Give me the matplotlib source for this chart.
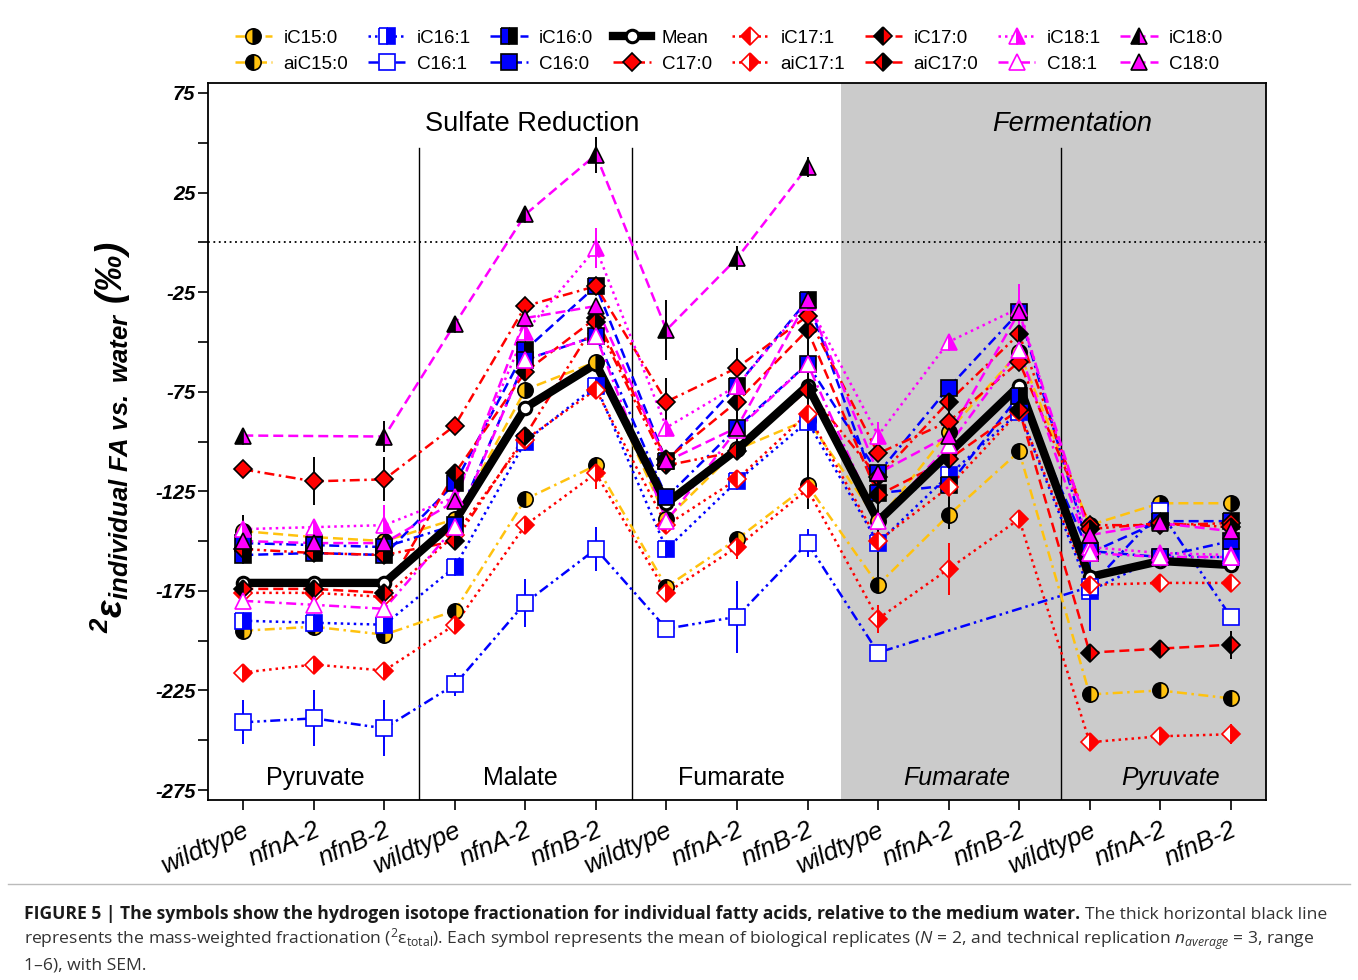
import numpy as np
import matplotlib
matplotlib.use("Agg")
import matplotlib.pyplot as plt
from matplotlib.lines import Line2D

plt.rcParams['font.family'] = ['Liberation Sans', 'DejaVu Sans']
plt.rcParams['axes.unicode_minus'] = False
plt.rcParams['mathtext.fontset'] = 'custom'
plt.rcParams['mathtext.rm'] = 'Open Sans'
plt.rcParams['mathtext.it'] = 'Open Sans:italic'
plt.rcParams['mathtext.bf'] = 'Liberation Sans:bold'
plt.rcParams['mathtext.bfit'] = 'Liberation Sans:italic:bold'

nan = np.nan

# ---------------- data ----------------
tick_labels = ["wildtype", "nfnA-2", "nfnB-2"] * 5
section_labels = ["Sulfate Reduction", "Fermentation"]
substrate_labels = ["Pyruvate", "Malate", "Fumarate", "Fumarate", "Pyruvate"]

iC15_0 = [-145, -148, -150, -139, -74, -60, -139, -104, -89, -140, -95, -55, -142, -131, -131]
aiC15_0 = [-195, -193, -197, -185, -129, -112, -173, -149, -122, -172, -137, -105, -227, -225, -229]
iC16_1 = [-190, -191, -192, -163, -100, -72, -154, -120, -90, -151, -117, -85, -175, -158, -158]
C16_1 = [-241, -239, -244, -222, -181, -154, -194, -188, -151, -206, nan, nan, -173, -135, -188]
iC16_0 = [-157, -156, -157, -121, -54, -22, -110, -72, -29, -126, -122, -77, -156, -140, -140]
C16_0 = [-151, -152, -153, -142, -59, -47, -128, -93, -61, -116, -73, -35, -155, -158, -150]
Mean = [-171, -171, -171, -140, -83, -61, -131, -104, -72, -140, -106, -72, -168, -160, -162]
iC17_1 = [-176, -176, -178, -147, -99, -74, -142, -119, -86, -150, -123, -85, -172, -171, -171]
aiC17_1 = [-216, -212, -215, -192, -142, -116, -176, -153, -124, -189, -164, -139, -251, -248, -247]
iC17_0 = [-174, -174, -176, -116, -65, -38, -109, -80, -44, -127, -109, -84, -206, -204, -202]
C17_0 = [-114, -120, -119, -92, -32, -22, -80, -63, -37, -106, -90, -60, -142, -142, -141]
aiC17_0 = [-154, -156, -157, -150, -97, -40, -112, -105, -74, -118, -80, -46, -144, -141, -143]
iC18_1 = [-144, -143, -142, -128, -45, -3, -93, -72, -30, -97, -50, -33, -153, -156, -157]
iC18_0 = [-97, nan, -97.5, -41, 14, 44, -44, -8, 38, nan, nan, nan, nan, nan, nan]
C18_1 = [-180, -182, -184, -143, -59, -47, -140, -94, -61, -140, -102, -54, -156, -158, -158]
C18_0 = [-150, -151, -151, -130, -38, -32, -110, -93, -29, -116, -97, -35, -147, -141, -145]

# standard errors (0 = not shown)
iC15_0_err = [8, 0, 0, 0, 0, 0, 0, 0, 45, 28, 0, 0, 0, 0, 0]
iC16_1_err = [0, 0, 0, 0, 0, 0, 0, 0, 0, 0, 0, 0, 20, 0, 0]
C16_1_err = [11, 14, 14, 6, 12, 11, 4, 18, 7, 0, 0, 0, 0, 0, 0]
aiC17_1_err = [4, 0, 0, 0, 3, 8, 3, 6, 0, 7, 13, 0, 0, 0, 5]
iC17_0_err = [0, 0, 0, 0, 0, 0, 0, 27, 0, 0, 35, 0, 0, 0, 7]
C17_0_err = [2, 12, 11, 4, 0, 0, 12, 0, 0, 0, 0, 0, 0, 0, 0]
iC18_1_err = [0, 0, 10, 0, 0, 10, 0, 0, 0, 7, 0, 12, 0, 0, 0]
iC18_0_err = [0, 0, 8, 4, 4, 9, 15, 6, 5, 0, 0, 0, 0, 0, 0]
zero_err = [0] * 15

# ---------------- styles ----------------
GOLD, BLUE, RED, MAG = '#FFC20E', '#0000FF', '#FF0000', '#FF00FF'
DASH = (0, (4, 2))
DOT = (0, (1, 1.6))
DASHDOT = (0, (4, 1.8, 1, 1.8))
DASHDOTDOT = (0, (4, 1.6, 1, 1.6, 1, 1.6))

# name, values, err, line color, ls, marker, fillstyle, face, alt, edge
series = [
    ("iC15:0", iC15_0, iC15_0_err, GOLD, DASH, 'o', 'left', GOLD, 'black', 'black'),
    ("aiC15:0", aiC15_0, zero_err, GOLD, DASHDOT, 'o', 'left', 'black', GOLD, 'black'),
    ("iC16:1", iC16_1, iC16_1_err, BLUE, DOT, 's', 'left', 'white', BLUE, BLUE),
    ("C16:1", C16_1, C16_1_err, BLUE, DASHDOTDOT, 's', 'full', 'white', 'white', BLUE),
    ("iC16:0", iC16_0, zero_err, BLUE, DASH, 's', 'left', BLUE, 'black', 'black'),
    ("C16:0", C16_0, zero_err, BLUE, DASHDOT, 's', 'full', BLUE, BLUE, 'black'),
    ("iC17:1", iC17_1, zero_err, RED, DOT, 'D', 'left', RED, 'white', RED),
    ("aiC17:1", aiC17_1, aiC17_1_err, RED, DOT, 'D', 'left', 'white', RED, RED),
    ("iC17:0", iC17_0, iC17_0_err, RED, DASH, 'D', 'left', 'black', RED, 'black'),
    ("C17:0", C17_0, C17_0_err, RED, DASHDOT, 'D', 'full', RED, RED, 'black'),
    ("aiC17:0", aiC17_0, zero_err, RED, DASHDOTDOT, 'D', 'left', RED, 'black', 'black'),
    ("iC18:1", iC18_1, iC18_1_err, MAG, DOT, '^', 'left', 'white', MAG, MAG),
    ("iC18:0", iC18_0, iC18_0_err, MAG, DASH, '^', 'left', 'black', MAG, 'black'),
    ("C18:1", C18_1, zero_err, MAG, DASHDOT, '^', 'full', 'white', 'white', MAG),
    ("C18:0", C18_0, zero_err, MAG, DASH, '^', 'full', MAG, MAG, 'black'),
]
msize = {'o': 11, 's': 11, 'D': 9, '^': 11}

W, H = 1358, 980
fig = plt.figure(figsize=(W / 100, H / 100), dpi=100)
ax = fig.add_axes([208 / W, 1 - 800 / H, (1266 - 208) / W, (800 - 83) / H])
x = np.arange(1, 16)
ax.set_xlim(0.5, 15.5)
ax.set_ylim(-280, 80)

# background / structure
ax.axvspan(9.47, 15.5, color='#cbcbcb', zorder=0, lw=0)
for xs in (3.49, 6.51, 12.59):
    ax.plot([xs, xs], [47.4, -280], color='black', lw=1.0, zorder=1)
ax.axhline(0, color='black', ls=(0, (1, 2)), lw=1.3, zorder=1)

handles = {}
for name, vals, err, col, ls, mk, fs, face, alt, edge in series:
    y = np.array(vals, dtype=float)
    m = ~np.isnan(y)
    ax.plot(x[m], y[m], color=col, ls=ls, lw=1.8, zorder=3)
    e = np.array(err, dtype=float)
    mm = m & (e > 0)
    if mm.any():
        ax.errorbar(x[mm], y[mm], yerr=e[mm], fmt='none', ecolor=edge,
                    elinewidth=1.4, capsize=0, zorder=3.5)
    ax.plot(x[m], y[m], ls='none', marker=mk, ms=msize[mk], fillstyle=fs,
            mfc=face, mfcalt=alt, mec=edge, mew=1.2, zorder=5)
    handles[name] = Line2D([], [], color=col, ls=ls, lw=1.8, marker=mk,
                           ms=msize[mk], fillstyle=fs, mfc=face, mfcalt=alt,
                           mec=edge, mew=1.2)

ym = np.array(Mean, dtype=float)
ax.plot(x, ym, color='black', lw=6, zorder=4, solid_capstyle='round')
ax.plot(x, ym, ls='none', marker='o', ms=9, mfc='white', mec='black', mew=2.2, zorder=4.5)
handles["Mean"] = Line2D([], [], color='black', lw=6, marker='o', ms=9,
                         mfc='white', mec='black', mew=2.2)

# texts inside
ax.text(5.09, 59.5, section_labels[0], fontsize=19.5, ha='center', va='center')
ax.text(12.75, 59.5, section_labels[1], fontsize=19.5, ha='center', va='center', style='italic')
sub_x = [2.02, 4.93, 7.92, 11.12, 14.15]
for i, (sx, lab) in enumerate(zip(sub_x, substrate_labels)):
    ax.text(sx, -269, lab, fontsize=18, ha='center', va='center',
            style='italic' if i >= 3 else 'normal')

# ticks
ax.set_xticks(x)
ax.set_xticklabels(tick_labels, rotation=24, ha='right', va='top',
                   rotation_mode='anchor', fontsize=18.5, style='italic')
yt = [75, 25, -25, -75, -125, -175, -225, -275]
ax.set_yticks(yt)
ax.set_yticklabels([str(v) for v in yt], fontsize=14.5, fontweight='bold', style='italic')
ax.set_yticks([50, 0, -50, -100, -150, -200, -250], minor=True)
ax.tick_params(axis='both', which='both', direction='out', length=7, width=1.2)
ax.tick_params(axis='x', pad=6)
ax.tick_params(axis='y', pad=2)
for s in ax.spines.values():
    s.set_linewidth(1.3)

# y label
fig.text(111 / W, 1 - 437 / H,
         r'$\mathbfit{{}^{2}\varepsilon_{individual\ FA\ vs.\ water}}$ (‰)',
         rotation=90, ha='center', va='center', fontsize=26.5,
         fontweight='bold', style='italic')

# legend
order = ["iC15:0", "aiC15:0", "iC16:1", "C16:1", "iC16:0", "C16:0", "Mean", "C17:0",
         "iC17:1", "aiC17:1", "iC17:0", "aiC17:0", "iC18:1", "C18:1", "iC18:0", "C18:0"]
fig.legend([handles[k] for k in order], order, ncol=8, loc='upper center',
           bbox_to_anchor=(729 / W, 1 - 13 / H), frameon=False, fontsize=13.5,
           handlelength=2.0, handletextpad=0.6, columnspacing=1.05, labelspacing=0.45)

# caption
fig.add_artist(Line2D([8 / W, 1350 / W], [1 - 884 / H, 1 - 884 / H],
                      color='#bbbbbb', lw=1.0, transform=fig.transFigure))
r = fig.canvas.get_renderer()
cap_font = dict(family=['Open Sans', 'DejaVu Sans'], fontsize=12.6, va='baseline')
yb1 = 1 - 919 / H
t1 = fig.text(24 / W, yb1,
              "FIGURE 5 | The symbols show the hydrogen isotope fractionation for individual fatty acids, relative to the medium water.",
              fontweight='bold', color='#1a1a1a', **cap_font)
bb = t1.get_window_extent(renderer=r)
fig.text((bb.x1 + 5) / W, yb1, "The thick horizontal black line", color='#333333', **cap_font)
fig.text(24 / W, 1 - 944 / H,
         r"represents the mass-weighted fractionation ($^{2}\mathrm{\varepsilon}_{\mathrm{total}}$). Each symbol represents the mean of biological replicates ($N$ = 2, and technical replication $n_{average}$ = 3, range",
         color='#333333', **cap_font)
fig.text(24 / W, 1 - 969 / H, "1–6), with SEM.", color='#333333', **cap_font)

fig.savefig("out.png", dpi=100)
